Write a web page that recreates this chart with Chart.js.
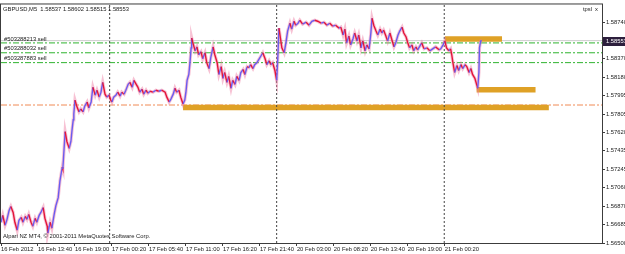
<!DOCTYPE html>
<html>
<head>
<meta charset="utf-8">
<script src="https://cdn.jsdelivr.net/npm/chart.js@4.4.1/dist/chart.umd.min.js"></script>
<style>
  html, body { margin: 0; padding: 0; background: #fff; }
  canvas { display: block; }
</style>
</head>
<body>
<canvas id="chart" width="625" height="254"></canvas>
<script>
// GBPUSD M5, bar number counted from 16 Feb 2012 08:20
const barIndex = [
  0, 3, 7, 10, 14, 17, 21, 24, 28, 31,
  35, 38, 42, 45, 48, 52, 55, 59, 62, 66,
  69, 73, 76, 80, 81, 85, 88, 92, 95, 99,
  102, 106, 107, 111, 114, 118, 121, 123, 125, 126,
  128, 131, 135, 138, 142, 145, 149, 152, 156, 159,
  163, 166, 170, 173, 176, 180, 183, 187, 190, 192,
  195, 199, 202, 206, 209, 213, 216, 220, 223, 227,
  230, 234, 237, 240, 244, 247, 251, 254, 258, 263,
  268, 273, 278, 284, 287, 291, 294, 298, 301, 304,
  308, 311, 315, 318, 320, 322, 325, 327, 329, 330,
  332, 336, 339, 342, 346, 349, 353, 356, 360, 363,
  367, 370, 374, 377, 381, 384, 387, 391, 394, 398,
  401, 405, 408, 412, 415, 419, 422, 426, 429, 432,
  436, 439, 443, 446, 450, 453, 457, 460, 464, 467,
  470, 474, 477, 479, 481, 483, 486, 490, 493, 496,
  500, 503, 507, 510, 514, 517, 522, 528, 533, 538,
  543, 548, 554, 559, 564, 569, 574, 579, 585, 588,
  592, 595, 598, 602, 605, 609, 612, 616, 619, 623,
  626, 630, 633, 637, 640, 642, 645, 649, 652, 656,
  659, 662, 666, 669, 673, 676, 680, 683, 687, 690,
  694, 697, 701, 704, 707, 711, 714, 718, 721, 725,
  728, 732, 737, 742, 747, 752, 758, 761, 765, 768,
  771, 775, 778, 780, 782, 785, 789, 792, 796, 799,
  803, 806, 810, 813, 816, 820, 823, 825, 827, 828,
  830, 832
];

const closePrice = [
  1.56710, 1.56780, 1.56680, 1.56730, 1.56830, 1.56870, 1.56810, 1.56710, 1.56630, 1.56730,
  1.56760, 1.56710, 1.56770, 1.56740, 1.56790, 1.56710, 1.56670, 1.56750, 1.56710, 1.56780,
  1.56810, 1.56860, 1.56750, 1.56670, 1.56600, 1.56710, 1.56650, 1.56790, 1.56880, 1.56960,
  1.57130, 1.57270, 1.57250, 1.57630, 1.57530, 1.57460, 1.57530, 1.57650, 1.57750, 1.57810,
  1.57950, 1.57890, 1.57830, 1.57860, 1.57830, 1.57890, 1.57930, 1.57870, 1.57930, 1.58080,
  1.58000, 1.58050, 1.57980, 1.58030, 1.58130, 1.58010, 1.57980, 1.58000, 1.57950, 1.57930,
  1.57980, 1.58000, 1.58030, 1.57990, 1.58030, 1.58010, 1.58050, 1.58110, 1.58130, 1.58080,
  1.58150, 1.58110, 1.58080, 1.58030, 1.58060, 1.58010, 1.58050, 1.58020, 1.58040, 1.58030,
  1.58050, 1.58040, 1.58050, 1.58030, 1.57980, 1.57930, 1.57960, 1.58010, 1.58070, 1.58030,
  1.58050, 1.57980, 1.57910, 1.57950, 1.58030, 1.58150, 1.58210, 1.58330, 1.58480, 1.58580,
  1.58530, 1.58450, 1.58490, 1.58410, 1.58440, 1.58370, 1.58430, 1.58330, 1.58270, 1.58380,
  1.58490, 1.58410, 1.58330, 1.58210, 1.58290, 1.58170, 1.58230, 1.58130, 1.58190, 1.58070,
  1.58150, 1.58110, 1.58190, 1.58150, 1.58230, 1.58260, 1.58210, 1.58290, 1.58280, 1.58310,
  1.58270, 1.58310, 1.58330, 1.58360, 1.58400, 1.58430, 1.58370, 1.58310, 1.58350, 1.58310,
  1.58330, 1.58250, 1.58150, 1.58380, 1.58680, 1.58600, 1.58480, 1.58430, 1.58530, 1.58650,
  1.58730, 1.58670, 1.58750, 1.58710, 1.58730, 1.58760, 1.58720, 1.58740, 1.58710, 1.58750,
  1.58760, 1.58750, 1.58730, 1.58740, 1.58710, 1.58730, 1.58700, 1.58710, 1.58680, 1.58690,
  1.58610, 1.58670, 1.58530, 1.58600, 1.58510, 1.58570, 1.58630, 1.58550, 1.58610, 1.58480,
  1.58550, 1.58450, 1.58510, 1.58470, 1.58630, 1.58780, 1.58710, 1.58650, 1.58610, 1.58670,
  1.58630, 1.58660, 1.58600, 1.58550, 1.58630, 1.58570, 1.58490, 1.58530, 1.58610, 1.58650,
  1.58690, 1.58630, 1.58590, 1.58530, 1.58480, 1.58510, 1.58450, 1.58490, 1.58460, 1.58500,
  1.58530, 1.58470, 1.58480, 1.58450, 1.58470, 1.58490, 1.58460, 1.58470, 1.58510, 1.58550,
  1.58480, 1.58450, 1.58470, 1.58410, 1.58330, 1.58230, 1.58300, 1.58250, 1.58310, 1.58270,
  1.58310, 1.58290, 1.58230, 1.58270, 1.58210, 1.58170, 1.58110, 1.58070, 1.58230, 1.58480,
  1.58550, 1.58553
];

const timeTickBars = [0, 64, 128, 192, 256, 320, 384, 448, 512, 576, 640, 704, 768];
const timeLabels = [
  '16 Feb 2012', '16 Feb 13:40', '16 Feb 19:00', '17 Feb 00:20', '17 Feb 05:40',
  '17 Feb 11:00', '17 Feb 16:20', '17 Feb 21:40', '20 Feb 03:00', '20 Feb 08:20',
  '20 Feb 13:40', '20 Feb 19:00', '21 Feb 00:20'
];
const priceTicks = [
  '1.58740', '1.58555', '1.58370', '1.58180', '1.57995', '1.57805', '1.57620',
  '1.57435', '1.57245', '1.57060', '1.56870', '1.56685', '1.56500'
];
const daySeparators = [188, 477, 767];

const orderNames = ['#503288213 sell', '#503288032 sell', '#503287883 sell'];
const orderPrices = [1.58530, 1.58430, 1.58330];
const stopPrice = 1.57900;
const bidPrice = 1.58553;

const zoneStart = [315, 768, 823];
const zoneEnd = [948, 867, 925];
const zonePrice = [1.57875, 1.58570, 1.58055];

const headerText = 'GBPUSD,M5  1.58537 1.58602 1.58515 1.58553';
const copyrightText = 'Alpari NZ MT4, \u00a9 2001-2011 MetaQuotes Software Corp.';

const X_MIN = 0, X_MAX = 1040;
const Y_MIN = 1.56500, Y_MAX = 1.58920;

const FONT = '5.8px "Liberation Sans", Arial, sans-serif';
const UP = '#6a5cf0';
const DOWN = '#e3163a';
const AXIS = '#3c3c3c';

const seriesPoints = barIndex.map((b, i) => ({ x: b, y: closePrice[i] }));

const datasets = [];

// price line on top, pink halo under it
datasets.push({
  data: seriesPoints,
  borderWidth: 1.4,
  pointRadius: 0,
  tension: 0,
  order: 0,
  segment: {
    borderColor: c => c.p1.parsed.y >= c.p0.parsed.y ? UP : DOWN
  }
});
datasets.push({
  data: seriesPoints,
  borderColor: 'rgba(238, 120, 160, 0.45)',
  borderWidth: 3.2,
  pointRadius: 0,
  tension: 0,
  order: 1
});

daySeparators.forEach(b => {
  datasets.push({
    data: [{ x: b, y: Y_MIN }, { x: b, y: Y_MAX }],
    borderColor: '#444',
    borderWidth: 1,
    borderDash: [2, 2],
    pointRadius: 0,
    order: 2
  });
});

zonePrice.forEach((p, i) => {
  datasets.push({
    data: [{ x: zoneStart[i], y: p }, { x: zoneEnd[i], y: p }],
    borderColor: '#dfa126',
    borderWidth: 5.5,
    borderCapStyle: 'butt',
    pointRadius: 0,
    order: 3
  });
});

orderPrices.forEach(p => {
  datasets.push({
    data: [{ x: X_MIN, y: p }, { x: X_MAX, y: p }],
    borderColor: '#2fb32f',
    borderWidth: 1,
    borderDash: [6, 2, 2, 2],
    pointRadius: 0,
    order: 4
  });
});

datasets.push({
  data: [{ x: X_MIN, y: stopPrice }, { x: X_MAX, y: stopPrice }],
  borderColor: '#f08a55',
  borderWidth: 1,
  borderDash: [6, 2, 2, 2],
  pointRadius: 0,
  order: 4
});

datasets.push({
  data: [{ x: X_MIN, y: bidPrice }, { x: X_MAX, y: bidPrice }],
  borderColor: '#cdcdcd',
  borderWidth: 1,
  pointRadius: 0,
  order: 5
});

const mtDecor = {
  id: 'mtDecor',
  beforeDraw(chart) {
    const ctx = chart.ctx;
    ctx.save();
    ctx.fillStyle = '#ffffff';
    ctx.fillRect(0, 0, chart.width, chart.height);
    ctx.restore();
  },
  afterDatasetsDraw(chart) {
    const { ctx, chartArea, scales } = chart;
    ctx.save();
    ctx.font = FONT;
    ctx.fillStyle = '#1a1a1a';
    ctx.textAlign = 'left';
    ctx.textBaseline = 'middle';
    ctx.fillText(headerText, chartArea.left + 2, chartArea.top + 5);
    ctx.fillText('tpsl', chartArea.right - 19, chartArea.top + 5);
    ctx.fillText('x', chartArea.right - 7, chartArea.top + 5);
    ctx.fillText(copyrightText, chartArea.left + 2, chartArea.bottom - 6.5);
    ctx.textBaseline = 'bottom';
    orderNames.forEach((name, i) => {
      const y = scales.y.getPixelForValue(orderPrices[i]);
      ctx.fillText(name, chartArea.left + 3, y - 1);
    });
    ctx.restore();
  },
  afterDraw(chart) {
    const { ctx, chartArea, scales } = chart;
    ctx.save();
    ctx.strokeStyle = AXIS;
    ctx.lineWidth = 1;
    ctx.strokeRect(chartArea.left - 0.5, chartArea.top - 0.5,
      chartArea.right - chartArea.left + 1, chartArea.bottom - chartArea.top + 1);
    // current bid marker on the price axis
    const y = scales.y.getPixelForValue(bidPrice);
    ctx.fillStyle = '#2d1f3d';
    ctx.fillRect(chartArea.right + 1, Math.round(y) - 4, chart.width - chartArea.right, 9);
    ctx.fillStyle = '#ffffff';
    ctx.font = FONT;
    ctx.textAlign = 'left';
    ctx.textBaseline = 'middle';
    ctx.fillText(bidPrice.toFixed(5), chartArea.right + 4, Math.round(y) + 0.5);
    ctx.restore();
  }
};

new Chart(document.getElementById('chart'), {
  type: 'line',
  data: { datasets },
  options: {
    responsive: false,
    animation: false,
    events: [],
    layout: { padding: { left: 1, top: 1, right: 0, bottom: 0 } },
    plugins: {
      legend: { display: false },
      tooltip: { enabled: false }
    },
    scales: {
      x: {
        type: 'linear',
        min: X_MIN,
        max: X_MAX,
        afterBuildTicks: axis => { axis.ticks = timeTickBars.map(v => ({ value: v })); },
        afterFit: axis => { axis.height = 11; },
        grid: { drawOnChartArea: false, tickLength: 3, color: AXIS },
        border: { color: AXIS },
        ticks: {
          align: 'start',
          autoSkip: false,
          maxRotation: 0,
          padding: 0,
          color: '#1a1a1a',
          font: { family: '"Liberation Sans", Arial, sans-serif', size: 5.8 },
          callback: v => {
            const i = timeTickBars.indexOf(v);
            return i >= 0 ? timeLabels[i] : '';
          }
        }
      },
      y: {
        position: 'right',
        min: Y_MIN,
        max: Y_MAX,
        afterBuildTicks: axis => { axis.ticks = priceTicks.map(v => ({ value: parseFloat(v) })); },
        afterFit: axis => { axis.width = 23; },
        grid: { drawOnChartArea: false, tickLength: 3, color: AXIS },
        border: { color: AXIS },
        ticks: {
          padding: 1,
          color: '#1a1a1a',
          font: { family: '"Liberation Sans", Arial, sans-serif', size: 5.8 },
          callback: (v, i) => priceTicks[i]
        }
      }
    }
  },
  plugins: [mtDecor]
});
</script>
</body>
</html>
